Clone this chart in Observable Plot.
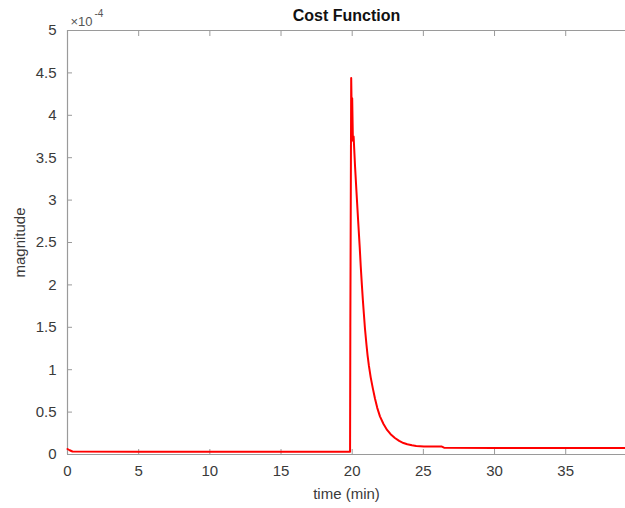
<!DOCTYPE html>
<html>
<head>
<meta charset="utf-8">
<script src="https://cdn.jsdelivr.net/npm/d3@7"></script>
<script src="https://cdn.jsdelivr.net/npm/@observablehq/plot@0.6"></script>
<style>
  html, body { margin: 0; padding: 0; background: #fff; }
  svg { display: block; }
</style>
</head>
<body>
<div id="chart"></div>
<script>
// time (min)
const time = [0, 0.15, 0.35, 5, 10, 15, 19.85, 19.87, 19.93, 19.97, 20.0, 20.05, 20.1, 20.2, 20.3, 20.42, 20.53, 20.6, 20.68, 20.75, 20.82, 20.9, 21.0, 21.08, 21.17, 21.3, 21.45, 21.6, 21.76, 21.95, 22.2, 22.45, 22.7, 23.0, 23.3, 23.6, 23.87, 24.2, 24.5, 25.04, 26.3, 26.45, 30, 35, 39.2];
// magnitude (x1e-4)
const magnitude = [0.065, 0.05, 0.035, 0.033, 0.033, 0.033, 0.033, 1.5, 4.44, 4.0, 4.2, 3.7, 3.75, 3.4, 3.1, 2.75, 2.44, 2.22, 2.0, 1.82, 1.66, 1.48, 1.3, 1.17, 1.05, 0.91, 0.78, 0.66, 0.55, 0.45, 0.36, 0.29, 0.24, 0.195, 0.16, 0.135, 0.12, 0.108, 0.1, 0.095, 0.093, 0.08, 0.078, 0.078, 0.078];
const xTicks = [0, 5, 10, 15, 20, 25, 30, 35];
const yTicks = [0, 0.5, 1, 1.5, 2, 2.5, 3, 3.5, 4, 4.5, 5];
const title = "Cost Function";
const xLabel = "time (min)";
const yLabel = "magnitude";

const data = time.map((t, i) => ({t, v: magnitude[i]}));
const axisColor = "#9a9a9a";
const textColor = "#3a3a3a";

const chart = Plot.plot({
  width: 625,
  height: 508,
  marginLeft: 67,
  marginRight: 0,
  marginTop: 30,
  marginBottom: 54,
  style: {fontFamily: "'Liberation Sans', Arial, sans-serif", fontSize: "15px", color: textColor, background: "#fff"},
  x: {domain: [0, 39.2]},
  y: {domain: [0, 5]},
  marks: [
    Plot.ruleY([0, 5], {stroke: axisColor, strokeWidth: 1.2}),
    Plot.ruleX([0], {stroke: axisColor, strokeWidth: 1.2}),
    Plot.axisX({ticks: xTicks, tickSize: 0, tickPadding: 11, label: xLabel, labelAnchor: "center", labelOffset: 44, labelArrow: "none", fill: textColor, fontSize: 15}),
    Plot.axisX({ticks: xTicks, tickSize: -5, text: null, label: null, stroke: axisColor}),
    Plot.axisX({anchor: "top", ticks: xTicks, tickSize: -5, text: null, label: null, stroke: axisColor}),
    Plot.axisY({ticks: yTicks, tickSize: 0, tickPadding: 11, tickFormat: d => String(d), label: yLabel, labelAnchor: "center", labelOffset: 53, labelArrow: "none", fill: textColor, fontSize: 15}),
    Plot.axisY({ticks: yTicks, tickSize: -5, text: null, label: null, stroke: axisColor}),
    Plot.line(data, {x: "t", y: "v", stroke: "#ff0000", strokeWidth: 2}),
    Plot.text([title], {frameAnchor: "top", dy: -21, text: d => d, fontWeight: "bold", fontSize: 16, fill: "#111"}),
    Plot.text(["\u00d710"], {frameAnchor: "top-left", dx: 3, dy: -14, text: d => d, textAnchor: "start", fontSize: 13, fill: "#555"}),
    Plot.text(["-4"], {frameAnchor: "top-left", dx: 27, dy: -21, text: d => d, textAnchor: "start", fontSize: 10, fill: "#555"})
  ]
});
document.getElementById("chart").appendChild(chart);
</script>
</body>
</html>
